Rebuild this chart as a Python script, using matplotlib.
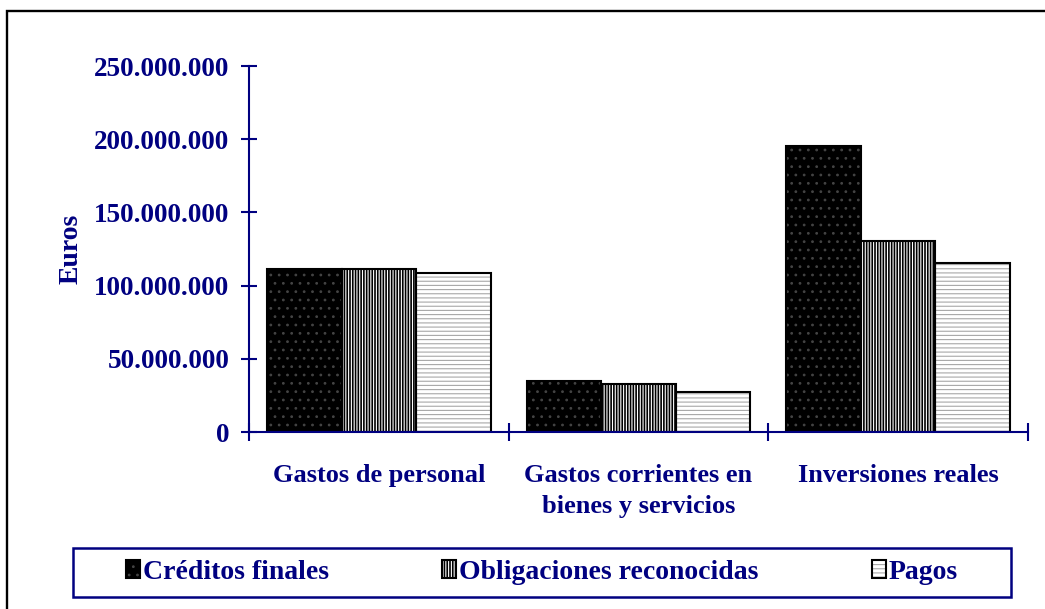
import matplotlib
matplotlib.use("Agg")
import matplotlib.pyplot as plt
import numpy as np
from matplotlib.patches import Rectangle
from matplotlib.legend_handler import HandlerTuple
from matplotlib.ticker import FuncFormatter

# valores (euros)
categorias = ["Gastos de personal", "Gastos corrientes en\nbienes y servicios", "Inversiones reales"]
series = ["Créditos finales", "Obligaciones reconocidas", "Pagos"]
creditos = [111300000, 34800000, 195400000]
obligaciones = [111200000, 32500000, 130600000]
pagos = [108400000, 27500000, 115200000]

navy = "#000080"
plt.rcParams['font.family'] = ['Liberation Serif', 'DejaVu Serif']
plt.rcParams['font.weight'] = 'bold'
plt.rcParams['hatch.linewidth'] = 0.8

fig = plt.figure(figsize=(10.45, 6.09), dpi=100)
ax = fig.add_axes([249/1045, 1 - 432/609, 779/1045, 366/609])

x = np.arange(len(categorias))
w = 0.287
# relleno (color de trama) y contorno por separado
estilos = [
    dict(facecolor="black", hatchcolor="#444444", hatch=".."),
    dict(facecolor="black", hatchcolor="white", hatch="||||||"),
    dict(facecolor="white", hatchcolor="#a8a8a8", hatch="----"),
]
handles = []
for i, vals in enumerate([creditos, obligaciones, pagos]):
    st = estilos[i]
    b1 = ax.bar(x + (i - 1) * w, vals, w, color=st["facecolor"], edgecolor=st["hatchcolor"],
                hatch=st["hatch"], linewidth=0, zorder=2)
    b2 = ax.bar(x + (i - 1) * w, vals, w, fill=False, edgecolor="black", linewidth=1.5, zorder=3)
    handles.append((b1[0], b2[0]))

ax.set_xlim(-0.5, 2.5)
ax.set_ylim(0, 250000000)
ax.set_yticks(np.arange(0, 250000001, 50000000))
ax.yaxis.set_major_formatter(FuncFormatter(lambda v, p: f"{int(v):,}".replace(",", ".")))

ax.set_xticks([-0.5, 0.5, 1.5, 2.5])
ax.set_xticklabels([])
ax.set_xticks(x, minor=True)
ax.set_xticklabels(categorias, minor=True, linespacing=1.45)
ax.tick_params(axis='x', which='minor', length=0, pad=23, labelsize=19, labelcolor=navy)
ax.tick_params(axis='x', which='major', direction='inout', length=13, width=1.5, color=navy)
ax.tick_params(axis='y', direction='inout', length=12, width=1.5, color=navy, pad=8,
               labelsize=19.5, labelcolor=navy)

for s in ['top', 'right']:
    ax.spines[s].set_visible(False)
for s in ['left', 'bottom']:
    ax.spines[s].set_color(navy)
    ax.spines[s].set_linewidth(1.5)
    ax.spines[s].set_zorder(4)

ax.set_ylabel("Euros", fontsize=20, color=navy, fontweight='bold')
ax.yaxis.set_label_coords(-0.212, 0.5)

leg = fig.legend(handles, series, handler_map={tuple: HandlerTuple(ndivide=1, pad=0)},
                 loc='center', bbox_to_anchor=(542/1045, 1 - 572.5/609), ncol=3,
                 fontsize=20, handlelength=0.5, handleheight=0.6, handletextpad=0.1,
                 columnspacing=4.1, frameon=False)
for t in leg.get_texts():
    t.set_color(navy)

# marco de la leyenda
fig.patches.append(Rectangle((73/1045, 1 - 597/609), 938/1045, 49/609, transform=fig.transFigure,
                             fill=False, edgecolor=navy, linewidth=1.8))
# marco exterior
fig.patches.append(Rectangle((7/1045, -0.1), 1.2, 1.1 - 11/609, transform=fig.transFigure,
                             fill=False, edgecolor="black", linewidth=1.7))

fig.savefig("out.png", dpi=100)
